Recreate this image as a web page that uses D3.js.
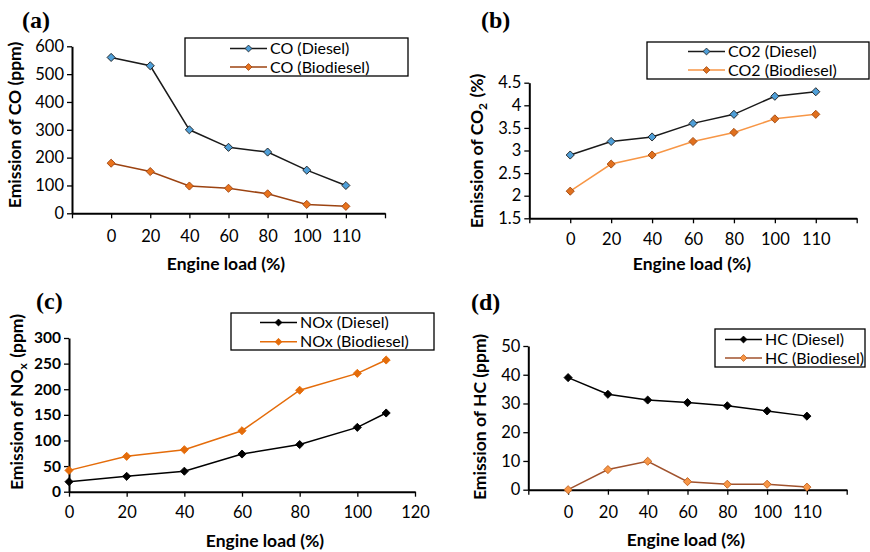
<!DOCTYPE html>
<html><head><meta charset="utf-8">
<script src="https://cdn.jsdelivr.net/npm/d3@7"></script>
<style>
body{margin:0;background:#fff;}
svg{display:block;}
text{font-family:Lato,"Open Sans",sans-serif;fill:#000;}
</style></head>
<body><svg id="c" width="870" height="552"></svg>
<script>
// ---- data ----
const loads = ["0","20","40","60","80","100","110"];
const loadNum = [0,20,40,60,80,100,110];
const coDiesel = [560,530,300,237,220,155,100];
const coBio = [180,150,98,90,70,32,25];
const co2Diesel = [2.9,3.2,3.3,3.6,3.8,4.2,4.3];
const co2Bio = [2.1,2.7,2.9,3.2,3.4,3.7,3.8];
const noxDiesel = [19.5,30,40,73.5,92,125.6,153.6];
const noxBio = [41.6,69,82,119,198,231,257];
const hcDiesel = [39,33.2,31.2,30.3,29.2,27.4,25.6];
const hcBio = [0,7,9.9,2.8,1.9,1.9,0.9];
const coTicks = [0,100,200,300,400,500,600];
const co2Ticks = [1.5,2,2.5,3,3.5,4,4.5];
const noxTicks = [0,50,100,150,200,250,300];
const noxXTicks = [0,20,40,60,80,100,120];
const hcTicks = [0,10,20,30,40,50];

const svg = d3.select("#c");
const TICKFS = 16.5, LEGFS = 16, TITLEFS = 17.5;

function panel(o){
  const g = svg.append("g");
  const y = d3.scaleLinear().domain(o.yDomain).range([o.y1, o.y0]);
  let x, xs;
  if(o.numeric){
    x = d3.scaleLinear().domain([0,120]).range([o.x0,o.x1]);
    xs = loadNum.map(v=>x(v));
  } else {
    x = d3.scaleLinear().domain([0,8]).range([o.x0,o.x1]);
    xs = loads.map((d,i)=>x(i+1));
  }
  // y axis
  const ya = d3.axisLeft(y).tickValues(o.yTicks).tickSize(5).tickSizeOuter(0)
    .tickFormat(d=>String(d));
  const yg = g.append("g").attr("transform",`translate(${o.x0},0)`).call(ya);
  yg.select(".domain").attr("stroke","#000").attr("stroke-width",2);
  yg.selectAll(".tick line").attr("stroke","#000").attr("stroke-width",1.3);
  yg.selectAll(".tick text").attr("font-size",o.boldY?15.5:TICKFS).attr("x",-8)
    .attr("font-weight",o.boldY?"bold":"normal").style("font-family","Lato,sans-serif");
  // x axis
  let xa;
  if(o.numeric){
    xa = d3.axisBottom(x).tickValues(noxXTicks).tickSize(5).tickSizeOuter(0);
  } else {
    xa = d3.axisBottom(x).tickValues(d3.range(0,9)).tickSize(5).tickSizeOuter(0)
      .tickFormat(i=> (i>=1&&i<=7)?loads[i-1]:"");
  }
  const xg = g.append("g").attr("transform",`translate(0,${o.y1})`).call(xa);
  xg.select(".domain").attr("stroke","#000").attr("stroke-width",2);
  xg.selectAll(".tick line").attr("stroke","#000").attr("stroke-width",1.3);
  xg.selectAll(".tick text").attr("font-size",TICKFS).attr("y",o.xLabelDy)
    .style("font-family","Lato,sans-serif");
  // series
  const sym = d3.symbol().type(d3.symbolDiamond2).size(o.msize||42);
  o.series.forEach(s=>{
    const pts = s.data.map((v,i)=>[xs[i], y(v)]);
    g.append("path").attr("d",d3.line()(pts)).attr("fill","none")
      .attr("stroke",s.line).attr("stroke-width",1.5);
    g.selectAll(null).data(pts).enter().append("path")
      .attr("d",sym).attr("transform",d=>`translate(${d[0]},${d[1]})`)
      .attr("fill",s.fill).attr("stroke",s.mstroke).attr("stroke-width",0.9);
  });
  // legend
  const L = o.legend;
  g.append("rect").attr("x",L.x).attr("y",L.y).attr("width",L.w).attr("height",L.h)
    .attr("fill","#fff").attr("stroke",L.stroke||"#000").attr("stroke-width",1.3);
  o.series.forEach((s,i)=>{
    const ry = L.y + L.r0 + i*L.dy;
    g.append("line").attr("x1",L.lx).attr("x2",L.lx+37).attr("y1",ry).attr("y2",ry)
      .attr("stroke",s.line).attr("stroke-width",1.5);
    g.append("path").attr("d",d3.symbol().type(d3.symbolDiamond2).size(30))
      .attr("transform",`translate(${L.lx+18.5},${ry})`)
      .attr("fill",s.fill).attr("stroke",s.mstroke).attr("stroke-width",0.8);
    g.append("text").attr("x",L.lx+40).attr("y",ry).attr("dy","0.35em")
      .attr("font-size",LEGFS).text(s.name);
  });
  // titles
  g.append("text").attr("x",o.xt[0]).attr("y",o.xt[1]).attr("text-anchor","middle")
    .attr("font-size",TITLEFS).attr("font-weight","bold").text("Engine load (%)");
  const yt = g.append("text").attr("transform",`translate(${o.yt[0]},${o.yt[1]}) rotate(-90)`)
    .attr("text-anchor","middle").attr("dy","0.35em")
    .attr("font-size",TITLEFS).attr("font-weight","bold");
  o.ytitle.forEach(p=>{
    if(p.sub){
      yt.append("tspan").attr("font-size",12).attr("dy",4).text(p.t);
      yt.append("tspan").attr("dy",-4).text("\u200A");
    } else yt.append("tspan").text(p.t);
  });
  g.append("text").attr("x",o.lab[0]).attr("y",o.lab[1])
    .style("font-family","'Liberation Serif','Times New Roman',serif")
    .attr("font-size",24).attr("font-weight","bold").text(o.label);
}

panel({
  label:"(a)", lab:[22,28],
  x0:72, x1:385, y0:46.3, y1:213.3, yDomain:[0,600], yTicks:coTicks, xLabelDy:17,
  series:[
    {name:"CO (Diesel)", data:coDiesel, line:"#1a1a1a", fill:"#4F9FD8", mstroke:"#1a1a1a"},
    {name:"CO (Biodiesel)", data:coBio, line:"#9C4311", fill:"#E9731C", mstroke:"#9C4311"}
  ],
  legend:{x:185,y:38,w:223,h:38,r0:10.5,dy:18.5,lx:230},
  xt:[226,270], yt:[15,125],
  ytitle:[{t:"Emission of CO (ppm)"}]
});
panel({
  label:"(b)", lab:[481,28],
  x0:529.3, x1:856.7, y0:82.7, y1:218.3, yDomain:[1.5,4.5], yTicks:co2Ticks, xLabelDy:15,
  series:[
    {name:"CO2 (Diesel)", data:co2Diesel, line:"#1a1a1a", fill:"#4F9FD8", mstroke:"#1a1a1a"},
    {name:"CO2 (Biodiesel)", data:co2Bio, line:"#F79646", fill:"#E0701E", mstroke:"#A04A10"}
  ],
  legend:{x:647,y:42,w:222,h:37,r0:9.5,dy:18.5,lx:688},
  xt:[692,270], yt:[477,151],
  ytitle:[{t:"Emission of CO"},{t:"2",sub:true},{t:" (%)"}]
});
panel({
  label:"(c)", lab:[36,309], numeric:true, boldY:true,
  x0:69, x1:415, y0:338, y1:491.7, yDomain:[0,300], yTicks:noxTicks, xLabelDy:15,
  series:[
    {name:"NOx (Diesel)", data:noxDiesel, line:"#000", fill:"#000", mstroke:"#000"},
    {name:"NOx (Biodiesel)", data:noxBio, line:"#E46C0A", fill:"#E46C0A", mstroke:"#E46C0A"}
  ],
  legend:{x:231,y:313,w:203,h:37,r0:9.5,dy:19.3,lx:260},
  xt:[265,547], yt:[17,402],
  ytitle:[{t:"Emission of NO"},{t:"x",sub:true},{t:" (ppm)"}]
});
panel({
  label:"(d)", lab:[471,310],
  x0:528.3, x1:846.7, y0:346, y1:489.7, yDomain:[0,50], yTicks:hcTicks, xLabelDy:17,
  series:[
    {name:"HC (Diesel)", data:hcDiesel, line:"#000", fill:"#000", mstroke:"#000"},
    {name:"HC (Biodiesel)", data:hcBio, line:"#A0522D", fill:"#F79646", mstroke:"#C0601E"}
  ],
  legend:{x:715,y:329,w:150,h:38,r0:10.5,dy:18.5,lx:725},
  xt:[686,546], yt:[480,417],
  ytitle:[{t:"Emission of HC (ppm)"}]
});
</script></body></html>
